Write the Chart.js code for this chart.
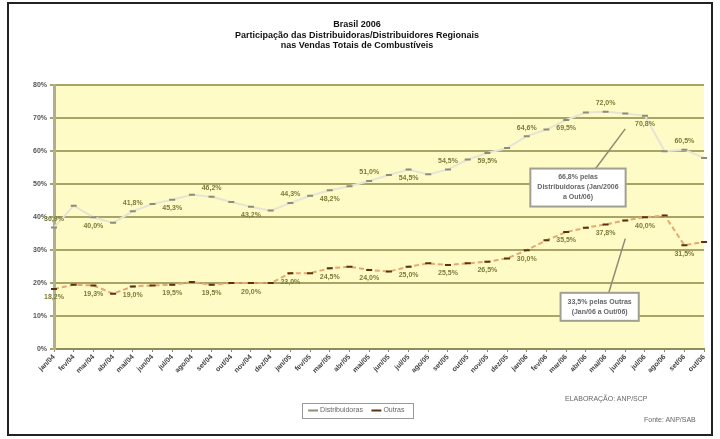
<!DOCTYPE html>
<html lang="pt-BR">
<head>
<meta charset="UTF-8">
<title>Participação</title>
<script src="https://cdn.jsdelivr.net/npm/chart.js"></script>
<style>
  html, body { margin: 0; padding: 0; background: #fff; }
  body { width: 720px; height: 439px; position: relative; overflow: hidden; font-family: 'Liberation Sans', Arial, sans-serif; }
  .frame { position: absolute; left: 7px; top: 2px; width: 706px; height: 434px; border: 2px solid #222; box-sizing: border-box; }
  .frame canvas { display: block; }
  .note { position: absolute; font-size: 7px; color: #666; white-space: nowrap; }
</style>
</head>
<body>
<div class="frame">
  <canvas id="chart" width="702" height="430"></canvas>
</div>
<div class="note" style="left:565px; top:395px;">ELABORAÇÃO: ANP/SCP</div>
<div class="note" style="left:644px; top:416px;">Fonte: ANP/SAB</div>
<script>
// meses (jan/04 .. out/06)
const months = ['jan','fev','mar','abr','mai','jun','jul','ago','set','out','nov','dez'];
const years = ['04', '05', '06'];
const labels = [];
years.forEach(y => months.forEach(m => labels.push(m + '/' + y)));
labels.length = 34;

// % de participação
const distribuidoras = [36.9, 43.5, 40.0, 38.3, 41.8, 44.0, 45.3, 46.8, 46.2, 44.6, 43.2, 42.0,
  44.3, 46.5, 48.2, 49.4, 51.0, 52.8, 54.5, 53.0, 54.5, 57.5, 59.5, 61.0,
  64.6, 66.6, 69.5, 71.8, 72.0, 71.5, 70.8, 60.0, 60.5, 58.0];
const outras = [18.2, 19.5, 19.3, 16.8, 19.0, 19.3, 19.5, 20.3, 19.5, 20.0, 20.0, 20.0,
  23.0, 23.0, 24.5, 25.0, 24.0, 23.5, 25.0, 26.0, 25.5, 26.0, 26.5, 27.5,
  30.0, 33.0, 35.5, 36.8, 37.8, 39.0, 40.0, 40.5, 31.5, 32.5];
const yTicks = [0, 10, 20, 30, 40, 50, 60, 70, 80];

// caixas de comentário
const callouts = [
  { boxAt: [26.6, 49], pointAt: [29, 66.8], text: ['66,8% pelas', 'Distribuidoras (Jan/2006', 'a Out/06)'] },
  { boxAt: [27.7, 12.8], pointAt: [29, 33.5], text: ['33,5% pelas Outras', '(Jan/06 a Out/06)'] }
];

const fmt = v => v.toFixed(1).replace('.', ',') + '%';

const plotBg = {
  id: 'plotBg',
  beforeDraw(chart) {
    const a = chart.chartArea, c = chart.ctx;
    c.save();
    c.fillStyle = '#FFFBC6';
    c.fillRect(a.left, a.top, a.right - a.left, a.bottom - a.top);
    c.restore();
  }
};

const valueLabels = {
  id: 'valueLabels',
  afterDatasetsDraw(chart) {
    const c = chart.ctx;
    c.save();
    c.font = 'bold 7px "Liberation Sans", Arial';
    c.fillStyle = '#7D7B3A';
    c.textAlign = 'center';
    chart.data.datasets.forEach((ds, di) => {
      const meta = chart.getDatasetMeta(di);
      meta.data.forEach((pt, i) => {
        if (i % 2 !== 0) return;
        const up = di === 0 ? (i % 4 === 0 ? -1 : 1) : 1;
        c.textBaseline = up < 0 ? 'bottom' : 'top';
        c.fillText(fmt(ds.data[i]), pt.x, pt.y + up * 5);
      });
    });
    c.restore();
  }
};

const notes = {
  id: 'notes',
  afterDraw(chart) {
    const c = chart.ctx, xs = chart.scales.x, ys = chart.scales.y;
    c.save();
    c.font = 'bold 7px "Liberation Sans", Arial';
    callouts.forEach(n => {
      const bx = xs.getPixelForValue(n.boxAt[0]), by = ys.getPixelForValue(n.boxAt[1]);
      const px = xs.getPixelForValue(n.pointAt[0]), py = ys.getPixelForValue(n.pointAt[1]);
      const w = Math.max(...n.text.map(t => c.measureText(t).width)) + 14;
      const h = n.text.length * 10 + 8;
      c.strokeStyle = '#8C8C70';
      c.lineWidth = 1.5;
      c.beginPath();
      c.moveTo(bx + w / 2 - 30, by - h / 2);
      c.lineTo(px, py);
      c.stroke();
      c.fillStyle = '#fff';
      c.fillRect(bx - w / 2, by - h / 2, w, h);
      c.lineWidth = 2;
      c.strokeStyle = '#A0A090';
      c.strokeRect(bx - w / 2, by - h / 2, w, h);
      c.fillStyle = '#666';
      c.textAlign = 'center';
      c.textBaseline = 'middle';
      n.text.forEach((t, k) => c.fillText(t, bx, by - h / 2 + 9 + k * 10));
    });
    // caixa da legenda
    const hb = chart.legend.legendHitBoxes;
    if (hb && hb.length) {
      const l = Math.min(...hb.map(b => b.left)) - 8;
      const r = Math.max(...hb.map(b => b.left + b.width)) + 8;
      const t = Math.min(...hb.map(b => b.top)) - 4;
      const btm = Math.max(...hb.map(b => b.top + b.height)) + 4;
      c.strokeStyle = '#999';
      c.lineWidth = 1;
      c.strokeRect(Math.round(l) + 0.5, Math.round(t) + 0.5, Math.round(r - l), Math.round(btm - t));
    }
    c.restore();
  }
};

new Chart(document.getElementById('chart'), {
  type: 'line',
  data: {
    labels: labels,
    datasets: [
      {
        label: 'Distribuidoras',
        data: distribuidoras,
        borderColor: '#E6E4D4',
        borderWidth: 2,
        pointStyle: 'line',
        pointRadius: 3,
        pointBorderWidth: 2,
        pointBorderColor: '#8E8E78',
        tension: 0
      },
      {
        label: 'Outras',
        data: outras,
        borderColor: '#E6A870',
        borderWidth: 2,
        borderDash: [5, 3],
        pointStyle: 'line',
        pointRadius: 3,
        pointBorderWidth: 2,
        pointBorderColor: '#5A3410',
        tension: 0
      }
    ]
  },
  options: {
    responsive: false,
    animation: false,
    layout: { padding: { left: 0, right: 6, top: 0, bottom: 10 } },
    plugins: {
      title: {
        display: true,
        text: ['Brasil 2006', 'Participação das Distribuidoras/Distribuidores Regionais', 'nas Vendas Totais de Combustíveis'],
        color: '#111',
        font: { size: 9, weight: 'bold', family: '"Liberation Sans", Arial' },
        lineHeight: 1.05,
        padding: { top: 15, bottom: 34 }
      },
      legend: {
        position: 'bottom',
        labels: {
          usePointStyle: true,
          pointStyle: 'line',
          boxWidth: 16,
          color: '#666',
          font: { size: 7, family: '"Liberation Sans", Arial' },
          padding: 10
        }
      },
      tooltip: { enabled: false }
    },
    scales: {
      x: {
        grid: { drawOnChartArea: false, color: '#8E8C60', tickLength: 3 },
        border: { color: '#8E8C60', width: 2 },
        ticks: {
          autoSkip: false,
          maxRotation: 45,
          minRotation: 45,
          color: '#444',
          font: { size: 7, weight: 'bold', family: '"Liberation Sans", Arial' },
          padding: 1
        },
        afterFit(s) { s.height = 48; }
      },
      y: {
        min: 0,
        max: 80,
        afterBuildTicks(s) { s.ticks = yTicks.map(v => ({ value: v })); },
        afterFit(s) { s.width = 45; },
        grid: { color: '#A8A468', lineWidth: 2, tickLength: 4 },
        border: { color: '#B0B090', width: 3 },
        ticks: {
          color: '#555',
          font: { size: 7, weight: 'bold', family: '"Liberation Sans", Arial' },
          callback: v => v + '%'
        }
      }
    }
  },
  plugins: [plotBg, valueLabels, notes]
});
</script>
</body>
</html>
